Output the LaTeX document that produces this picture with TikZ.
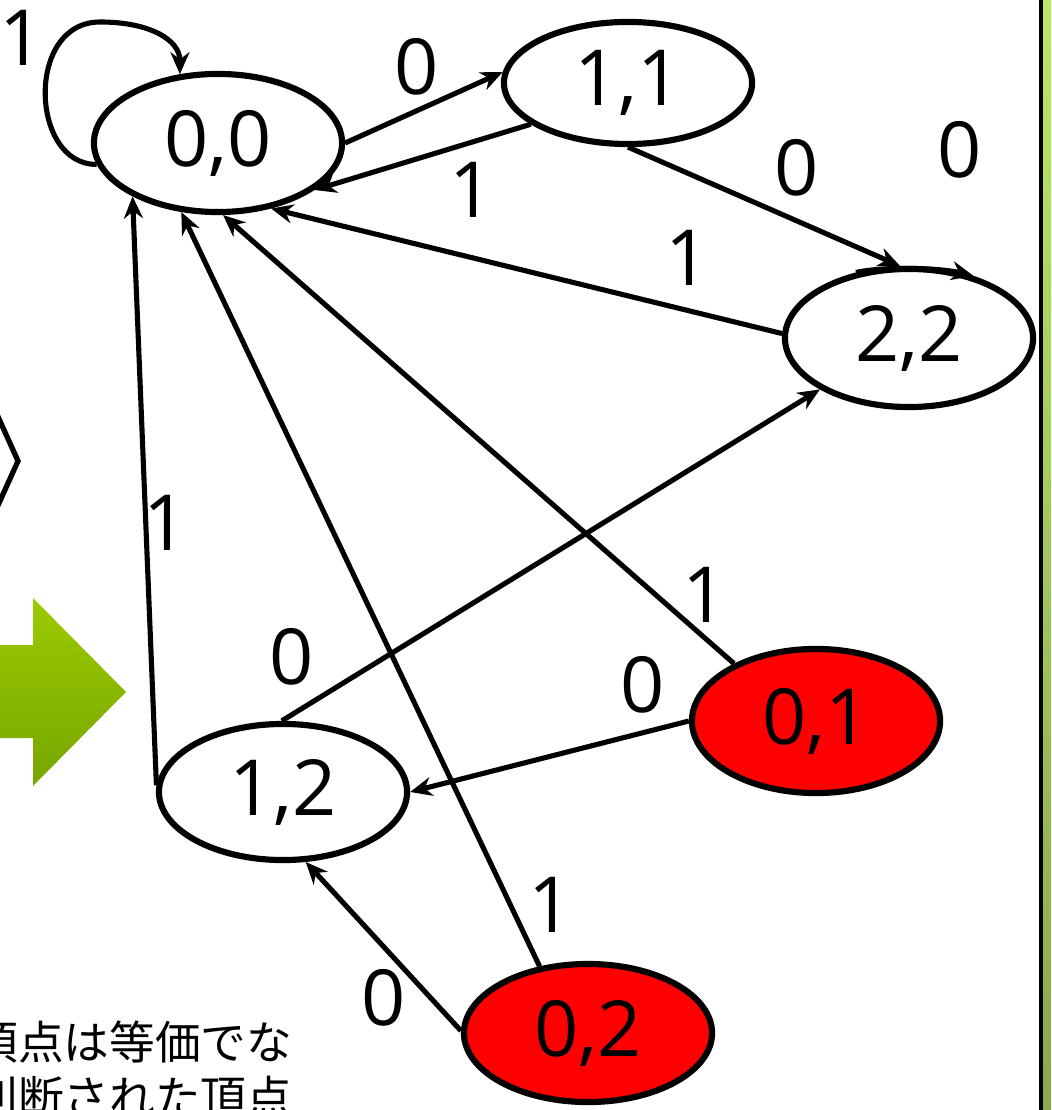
\documentclass[tikz,border=0pt]{standalone}
\usepackage{fontspec}
\setmainfont{Open Sans}
\newfontfamily\jpfont{Noto Sans CJK JP}
\usetikzlibrary{positioning,arrows.meta,shapes.geometric}
\definecolor{arrowtop}{RGB}{156,202,0}
\definecolor{arrowbot}{RGB}{118,166,0}
\definecolor{bartop}{RGB}{190,228,105}
\definecolor{barbot}{RGB}{138,168,80}
\tikzset{
  vtx/.style={draw, ellipse, line width=1.75pt, fill=white, inner sep=0pt, minimum width=2.48cm, minimum height=1.38cm, font=\fontsize{22}{26}\selectfont},
  vtxred/.style={vtx, fill=red},
  trans/.style={-{Stealth[length=2.2mm, width=1.9mm]}, line width=1.45pt},
  lbl/.style={font=\fontsize{22}{26}\selectfont, inner sep=0pt},
  jptext/.style={anchor=east, inner sep=0pt, font=\jpfont\fontsize{13}{15}\selectfont}
}

\begin{document}
\begin{tikzpicture}[x=0.01cm, y=-0.01cm]
  \useasboundingbox (0,0) rectangle (1051,1110);
  \clip (0,0) rectangle (1051,1110);

  % slide decorations around the graph
  \draw[line width=1.5pt] (-5,410) -- (18,461) -- (-5,512);
  \shade[top color=arrowtop, bottom color=arrowbot] (-5,645) -- (33,645) -- (33,598) -- (126,692) -- (33,786) -- (33,738) -- (-5,738) -- cycle;
  \shade[top color=bartop, bottom color=barbot] (1041,-5) rectangle (1060,1115);
  \draw[line width=1pt] (1041,-5) -- (1041,1115);
  \node[jptext] (note1) at (293,1042) {頂点は等価でな};
  \node[jptext] (note2) at (293,1097) {判断された頂点};

  % states
  \node[vtx] (n00) at (218,143) {0,0};
  \node[vtx, minimum height=1.22cm] (n11) at (628,83) {1,1};
  \node[vtx] (n22) at (909,338) {2,2};
  \node[vtxred, minimum height=1.44cm] (n01) at (816,721) {0,1};
  \node[vtx, minimum height=1.36cm] (n12) at (283,792) {1,2};
  \node[vtxred] (n02) at (588,1033) {0,2};

  % transitions
  \draw[trans] (n00.190) .. controls (30,165) and (25,22) .. (100,22) .. controls (150,22) and (180,40) .. (n00.119);
  \draw[trans] (n00.0) -- (n11.175);
  \draw[trans] (n11.203) -- (n00.334);
  \draw[trans] (n11.270) -- (n22.97);
  \draw[trans] (n22.129) .. controls (885,266) and (940,268) .. (n22.44);
  \draw[trans] (n22.178) -- (n00.309);
  \draw[trans] (n12.177) -- (n00.212);
  \draw[trans] (n12.91) -- (n22.210);
  \draw[trans] (n01.145) -- (n00.274);
  \draw[trans] (n01.180) -- (n12.0);
  \draw[trans] (n02.126) -- (n00.242);
  \draw[trans] (n02.179) -- (n12.288);

  % transition labels
  \node[lbl] (l1) at (22,38) {1};
  \node[lbl] (l2) at (417,67) {0};
  \node[lbl] (l3) at (472,190) {1};
  \node[lbl] (l4) at (797,168) {0};
  \node[lbl] (l5) at (960,150) {0};
  \node[lbl] (l6) at (688,258) {1};
  \node[lbl] (l7) at (166,523) {1};
  \node[lbl] (l8) at (292,657) {0};
  \node[lbl] (l9) at (705,595) {1};
  \node[lbl] (l10) at (643,685) {0};
  \node[lbl] (l11) at (551,905) {1};
  \node[lbl] (l12) at (384,998) {0};
\end{tikzpicture}
\end{document}
